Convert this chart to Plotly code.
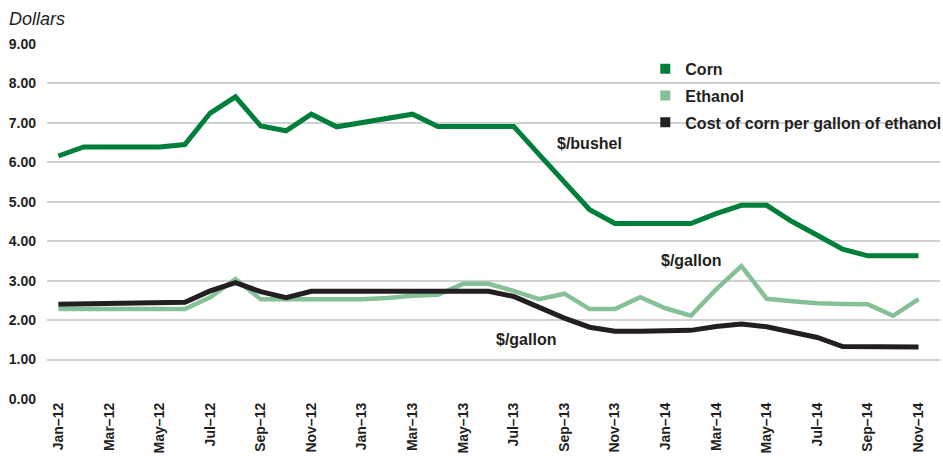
import plotly.graph_objects as go

months = ["Jan–12","Feb–12","Mar–12","Apr–12","May–12","Jun–12","Jul–12","Aug–12","Sep–12","Oct–12","Nov–12","Dec–12",
          "Jan–13","Feb–13","Mar–13","Apr–13","May–13","Jun–13","Jul–13","Aug–13","Sep–13","Oct–13","Nov–13","Dec–13",
          "Jan–14","Feb–14","Mar–14","Apr–14","May–14","Jun–14","Jul–14","Aug–14","Sep–14","Oct–14","Nov–14"]

corn = [6.16, 6.39, 6.39, 6.39, 6.39, 6.45, 7.25, 7.66, 6.92, 6.80, 7.22, 6.90,
        7.00, 7.10, 7.22, 6.91, 6.91, 6.91, 6.91, 6.20, 5.50, 4.80, 4.45, 4.45,
        4.45, 4.45, 4.70, 4.91, 4.91, 4.50, 4.15, 3.80, 3.63, 3.63, 3.63]

ethanol = [2.28, 2.28, 2.28, 2.28, 2.28, 2.28, 2.58, 3.04, 2.53, 2.53, 2.53, 2.53,
           2.53, 2.56, 2.62, 2.64, 2.92, 2.92, 2.74, 2.53, 2.67, 2.28, 2.28, 2.58,
           2.30, 2.11, 2.78, 3.37, 2.54, 2.48, 2.43, 2.41, 2.40, 2.11, 2.53]

cost = [2.40, 2.41, 2.42, 2.43, 2.44, 2.45, 2.74, 2.95, 2.72, 2.57, 2.73, 2.73,
        2.73, 2.73, 2.73, 2.73, 2.73, 2.73, 2.60, 2.32, 2.05, 1.82, 1.72, 1.72,
        1.73, 1.74, 1.84, 1.90, 1.83, 1.70, 1.56, 1.33, 1.32, 1.32, 1.32]

series_names = ["Corn", "Ethanol", "Cost of corn per gallon of ethanol"]
y_ticks = [0, 1, 2, 3, 4, 5, 6, 7, 8, 9]

C_CORN = "#007f3b"
C_ETH = "#86c096"
C_COST = "#231f20"
TXT = "#231f20"
FONT = "Liberation Sans, Arial, sans-serif"

x = list(range(len(months)))

fig = go.Figure()
fig.add_trace(go.Scatter(x=x, y=ethanol, mode="lines", line=dict(color=C_ETH, width=4.5),
                         showlegend=False, hoverinfo="skip"))
fig.add_trace(go.Scatter(x=x, y=cost, mode="lines", line=dict(color=C_COST, width=5),
                         showlegend=False, hoverinfo="skip"))
fig.add_trace(go.Scatter(x=x, y=corn, mode="lines", line=dict(color=C_CORN, width=5),
                         showlegend=False, hoverinfo="skip"))

for name, col in zip(series_names, [C_CORN, C_ETH, C_COST]):
    fig.add_trace(go.Scatter(x=[None], y=[None], mode="markers", name=name,
                             legendgroup=name,
                             marker=dict(symbol="square", size=10, color=col)))

ann = dict(showarrow=False, font=dict(family=FONT, size=16, color=TXT, weight="bold"))
fig.add_annotation(x=21.0, y=6.49, text="$/bushel", **ann)
fig.add_annotation(x=25.0, y=3.50, text="$/gallon", **ann)
fig.add_annotation(x=18.5, y=1.52, text="$/gallon", **ann)

fig.add_annotation(xref="paper", yref="paper", x=-40/893, y=(399-19)/355, xanchor="left", yanchor="middle",
                   text="<i>Dollars</i>", showarrow=False,
                   font=dict(family=FONT, size=18, color=TXT))

fig.update_layout(
    width=943, height=461, autosize=False,
    margin=dict(l=47, r=3, t=44, b=62, autoexpand=False),
    plot_bgcolor="white", paper_bgcolor="white",
    font=dict(family=FONT, color=TXT),
    legend=dict(x=0.67, y=0.978, xanchor="left", yanchor="top",
                font=dict(family=FONT, size=16, color=TXT, weight="bold"),
                tracegroupgap=3, bgcolor="rgba(0,0,0,0)"),
    xaxis=dict(range=[-0.45, 34.85], tickmode="array", tickvals=x[::2], ticktext=months[::2],
               tickangle=-90, showgrid=False, zeroline=False, showline=False, ticks="",
               automargin=False,
               tickfont=dict(family=FONT, size=14, color=TXT, weight="bold")),
    yaxis=dict(range=[0, 9], tickmode="array", tickvals=y_ticks,
               ticktext=[f"{v:.2f}" for v in y_ticks],
               showgrid=True, gridcolor="#d2d2d2", gridwidth=2, zeroline=False, showline=False,
               ticks="", ticklabelstandoff=10, automargin=False,
               tickfont=dict(family=FONT, size=14, color=TXT, weight="bold")),
)

post = ("document.documentElement.style.margin='0';document.documentElement.style.overflow='hidden';"
        "document.body.style.margin='0';document.body.style.overflow='hidden';")
fig.write_html("out.html", config={"displayModeBar": False, "responsive": False}, post_script=post)
